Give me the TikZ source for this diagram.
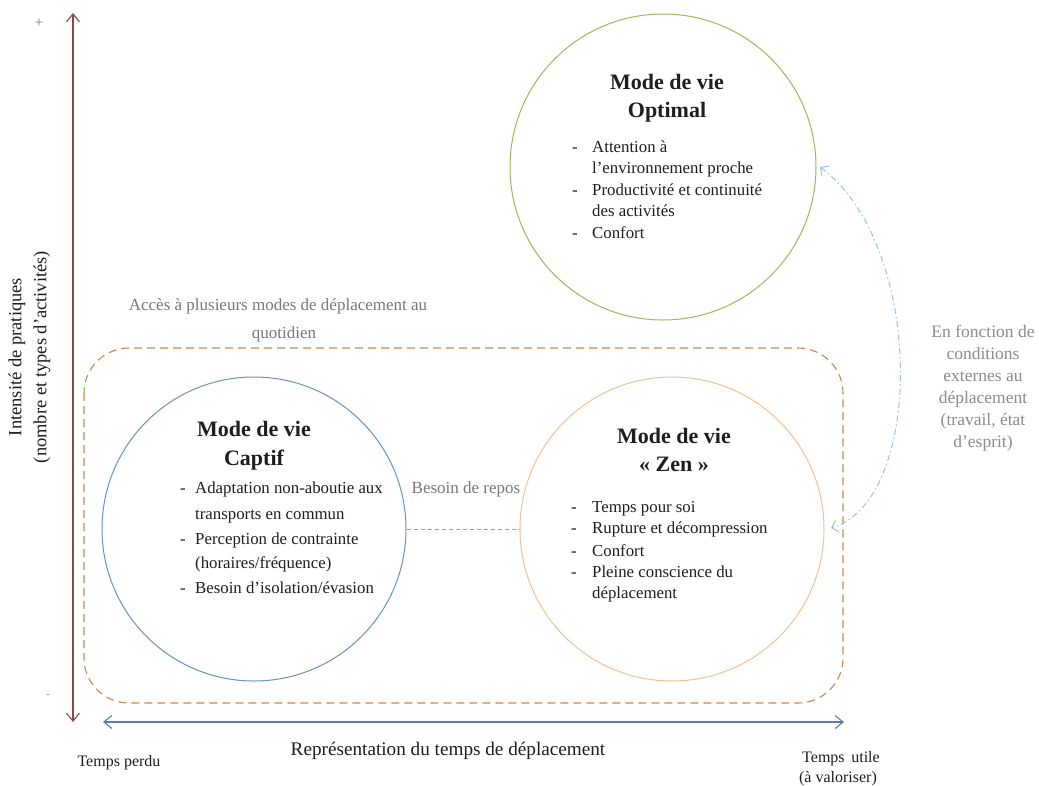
\documentclass[tikz,border=0pt]{standalone}
\usepackage{fontspec}
\setmainfont{Liberation Serif}
\usetikzlibrary{arrows.meta}
\definecolor{optgreen}{RGB}{155,187,89}
\definecolor{capblue}{RGB}{105,145,195}
\definecolor{zenorange}{RGB}{245,192,150}
\definecolor{boxorange}{RGB}{205,135,75}
\definecolor{yaxiscol}{RGB}{140,72,72}
\definecolor{xaxiscol}{RGB}{90,125,170}
\definecolor{curvcol}{RGB}{150,195,225}
\definecolor{graytxt}{RGB}{120,120,120}
\definecolor{bodytxt}{RGB}{30,30,30}
\begin{document}
\begin{tikzpicture}[x=1pt,y=-1pt,
  circ/.style={circle, draw, line width=1pt, minimum size=#1, inner sep=0pt},
  ttl/.style={font=\fontsize{22}{26}\selectfont\bfseries, anchor=base, inner sep=0pt, text=bodytxt},
  bul/.style={font=\fontsize{16.8}{20}\selectfont, anchor=base west, inner sep=0pt, text=bodytxt},
  graylbl/.style={font=\fontsize{17}{22}\selectfont, text=graytxt, anchor=base, inner sep=0pt},
  axlbl/.style={font=\fontsize{18.5}{21}\selectfont, text=bodytxt, inner sep=0pt},
  smalllbl/.style={font=\fontsize{16}{18}\selectfont, text=bodytxt, anchor=base, inner sep=0pt},
  barb/.tip={Straight Barb[length=8pt,width=13pt]},
  axisline/.style={line width=1.1pt, barb-barb},
  boxst/.style={draw=boxorange, line width=1.1pt, dash pattern=on 8pt off 5pt, rounded corners=45pt},
  curvst/.style={draw=curvcol, line width=1pt, dash pattern=on 6pt off 3pt on 1.5pt off 3pt,
     {Straight Barb[length=6pt,width=12pt]}-{Straight Barb[length=6pt,width=12pt]}},
  linkst/.style={draw=graytxt!70, line width=0.8pt, dash pattern=on 4pt off 3pt}
]
\useasboundingbox[fill=white] (0,0) rectangle (1039,785);

% access box
\draw[boxst] (84,348) rectangle (843,703);

% circles
\node[circ=306pt, draw=optgreen] (opt) at (663,167) {};
\node[circ=304pt, draw=capblue] (cap) at (254,529) {};
\node[circ=304pt, draw=zenorange] (zen) at (672,529) {};

% axes
\coordinate (ytop) at (73,13);
\coordinate (ybot) at (73,722);
\draw[axisline, draw=yaxiscol] (ybot) -- (ytop);
\coordinate (xl) at (103,722);
\coordinate (xr) at (844,722);
\draw[axisline, draw=xaxiscol] (xl) -- (xr);

\node[font=\fontsize{15}{15}\selectfont, text=graytxt] (plus) at (39,23) {+};
\node[font=\fontsize{10}{10}\selectfont, text=graytxt] (minus) at (48,696) {-};

\node[axlbl, rotate=90] (yl1) at (17,357) {Intensité de pratiques};
\node[axlbl, rotate=90] (yl2) at (42,357) {(nombre et types d’activités)};

\node[font=\fontsize{19.2}{22}\selectfont, text=bodytxt, anchor=base, inner sep=0pt] (xlab) at (448,755) {Représentation du temps de déplacement};
\node[smalllbl] (tperdu) at (119,766) {Temps perdu};
\node[smalllbl] (tutile) at (841,762) {Temps\, utile};
\node[smalllbl] (tval) at (838,782) {(à valoriser)};

% Optimal
\node[ttl] (optt1) at (667,89) {Mode de vie};
\node[ttl] (optt2) at (667,117) {Optimal};
\node[bul] (optd1) at (572,152) {-};
\node[bul] (opt1) at (592,152) {Attention à};
\node[bul] (opt2) at (592,173.5) {l’environnement proche};
\node[bul] (optd2) at (572,195) {-};
\node[bul] (opt3) at (592,195) {Productivité et continuité};
\node[bul] (opt4) at (592,216.5) {des activités};
\node[bul] (optd3) at (572,238) {-};
\node[bul] (opt5) at (592,238) {Confort};

% Captif
\node[ttl] (capt1) at (254,436) {Mode de vie};
\node[ttl] (capt2) at (254,465) {Captif};
\node[bul] (capd1) at (180,493) {-};
\node[bul] (cap1) at (195,493) {Adaptation non-aboutie aux};
\node[bul] (cap2) at (195,519) {transports en commun};
\node[bul] (capd2) at (180,544) {-};
\node[bul] (cap3) at (195,544) {Perception de contrainte};
\node[bul] (cap4) at (195,568) {(horaires/fréquence)};
\node[bul] (capd3) at (180,593) {-};
\node[bul] (cap5) at (195,593) {Besoin d’isolation/évasion};

% Zen
\node[ttl] (zent1) at (674,443) {Mode de vie};
\node[ttl] (zent2) at (674,471) {« Zen »};
\node[bul] (zend1) at (571,512) {-};
\node[bul] (zen1) at (592,512) {Temps pour soi};
\node[bul] (zend2) at (571,533) {-};
\node[bul] (zen2) at (592,533) {Rupture et décompression};
\node[bul] (zend3) at (571,556) {-};
\node[bul] (zen3) at (592,556) {Confort};
\node[bul] (zend4) at (571,577) {-};
\node[bul] (zen4) at (592,577) {Pleine conscience du};
\node[bul] (zen5) at (592,598) {déplacement};

% gray labels
\node[graylbl] (acc1) at (278,310) {Accès à plusieurs modes de déplacement au};
\node[graylbl] (acc2) at (284,338) {quotidien};
\node[graylbl] (repos) at (466,493) {Besoin de repos};
\draw[linkst] (cap.east) -- (zen.west);

\node[graylbl, text=graytxt!85, font=\fontsize{17.5}{22}\selectfont] (ef1) at (983,337) {En fonction de};
\node[graylbl, text=graytxt!85, font=\fontsize{17.5}{22}\selectfont] (ef2) at (983,359) {conditions};
\node[graylbl, text=graytxt!85, font=\fontsize{17.5}{22}\selectfont] (ef3) at (983,381) {externes au};
\node[graylbl, text=graytxt!85, font=\fontsize{17.5}{22}\selectfont] (ef4) at (983,403) {déplacement};
\node[graylbl, text=graytxt!85, font=\fontsize{17.5}{22}\selectfont] (ef5) at (983,425) {(travail, état};
\node[graylbl, text=graytxt!85, font=\fontsize{17.5}{22}\selectfont] (ef6) at (983,447) {d’esprit)};

% curved arrow
\coordinate (oarr) at (820,167);
\coordinate (zarr) at (831,528);
\draw[curvst] (oarr) .. controls (925,245) and (925,500) .. (zarr);
\end{tikzpicture}
\end{document}
